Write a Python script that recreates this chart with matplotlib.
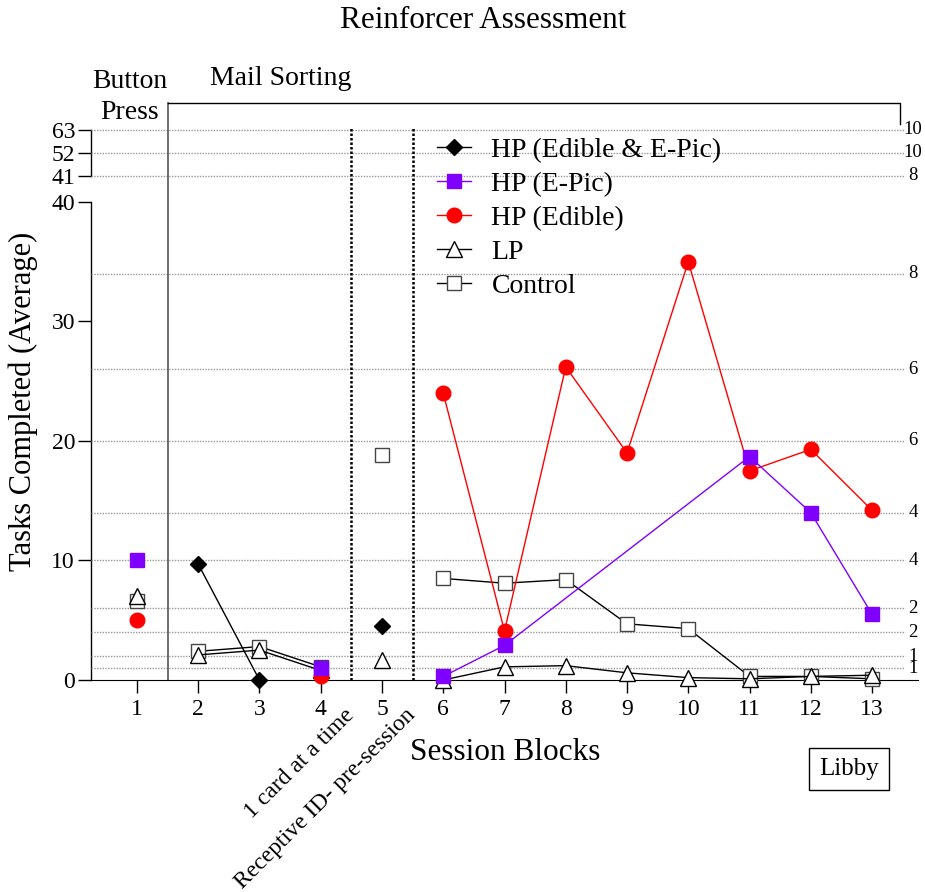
import numpy as np
import matplotlib
matplotlib.use('Agg')
import matplotlib.pyplot as plt
from matplotlib.lines import Line2D

plt.rcParams['font.family'] = 'Liberation Serif'

nan = np.nan
sessions = np.arange(1, 14)
hp_both = [nan, 9.7, 0.0, nan, 4.5, nan, nan, nan, nan, nan, nan, nan, nan]
hp_epic = [10.0, nan, nan, 1.0, nan, 0.3, 2.9, nan, nan, nan, 18.7, 14.0, 5.5]
hp_edible = [5.0, nan, nan, 0.3, nan, 24.0, 4.1, 26.2, 19.0, 35.0, 17.5, 19.3, 14.2]
lp = [7.0, 2.1, 2.5, 0.8, 1.7, 0.0, 1.1, 1.2, 0.6, 0.2, 0.1, 0.3, 0.4]
control = [6.6, 2.4, 2.8, 1.1, 18.8, 8.5, 8.1, 8.4, 4.7, 4.3, 0.3, 0.3, 0.1]

# phases: button press | mail sorting (3 conditions)
phases = [(1, 1), (2, 4), (5, 5), (6, 13)]
phase_lines = [1.5, 4.5, 5.5]

# criterion lines and the session count written at the right edge
crit_vals = [1, 2, 4, 6, 10, 14, 20, 26, 34, 41, 52, 63]
crit_labels = ['1', '1', '2', '2', '4', '4', '6', '6', '8', '8', '10', '10']

yticks = [0, 10, 20, 30, 40, 41, 52, 63]


# broken y axis: 0-40 linear, 41-63 squeezed on top
def fwd(y):
    y = np.asarray(y, float)
    return np.where(y <= 40, y,
                    np.where(y <= 41, 40 + (y - 40) * 2.18, 42.18 + (y - 41) * 0.175))


def inv(t):
    t = np.asarray(t, float)
    return np.where(t <= 40, t,
                    np.where(t <= 42.18, 40 + (t - 40) / 2.18, 41 + (t - 42.18) / 0.175))


fig = plt.figure(figsize=(9.25, 8.92), dpi=100)
ax = fig.add_axes([91 / 925, 1 - 680 / 892, 827 / 925, 553 / 892])
ax.set_yscale('function', functions=(fwd, inv))
ax.set_xlim(0.25, 13.75)
ax.set_ylim(0, 64.4)

for s in ['top', 'right', 'left']:
    ax.spines[s].set_visible(False)
ytr = ax.get_yaxis_transform()
ax.plot([0, 0], [0, 40], transform=ytr, color='k', lw=1, clip_on=False)
ax.plot([0, 0], [41, 63], transform=ytr, color='k', lw=1, clip_on=False)

ax.set_yticks(yticks)
ax.set_yticks([40, 41], minor=True)
ax.set_yticklabels([str(v) for v in yticks])
ax.set_xticks(sessions)
ax.tick_params(axis='both', which='major', direction='out', length=9.5, width=1,
               labelsize=17, pad=2)
ax.tick_params(axis='x', pad=4)
ax.tick_params(axis='y', which='minor', direction='in', length=6.5, width=1)

# criterion lines
ax.hlines(crit_vals, 0.25, 13.54, colors='#999999', linestyles=(0, (1, 1)), lw=1)
for v, lab in zip(crit_vals, crit_labels):
    ax.text(13.67, v, lab, fontsize=13.5, ha='center', va='center', clip_on=False)

# phase change lines and bracket
xtr = ax.get_xaxis_transform()
ax.plot([1.5, 1.5], [0, 1.044], transform=xtr, color='#555555', lw=1.2, clip_on=False)
ax.plot([1.5, 13.457, 13.457], [1.044, 1.044, 1.005], transform=xtr, color='k',
        lw=1, clip_on=False)
for xp in phase_lines[1:]:
    ax.plot([xp, xp], [0, 1.0], transform=xtr, color='k', lw=1.8,
            linestyle=(0, (1, 0.8)), clip_on=False)

ax.text(0.886, 1.054, 'Button\nPress', transform=xtr, fontsize=20, ha='center',
        va='center', linespacing=1.3)
ax.text(3.35, 1.0886, 'Mail Sorting', transform=xtr, fontsize=20, ha='center', va='center')

styles = [
    ('Control', control, dict(color='black', marker='s', markersize=10,
                             markerfacecolor='white', markeredgecolor='#444444')),
    ('LP', lp, dict(color='black', marker='^', markersize=11,
                    markerfacecolor='white', markeredgecolor='black')),
    ('HP (Edible)', hp_edible, dict(color='red', marker='o', markersize=10.5,
                                   markerfacecolor='red', markeredgecolor='red')),
    ('HP (E-Pic)', hp_epic, dict(color='#8000ff', marker='s', markersize=10,
                                markerfacecolor='#8000ff', markeredgecolor='#8000ff')),
    ('HP (Edible & E-Pic)', hp_both, dict(color='black', marker='D', markersize=8,
                                         markerfacecolor='black', markeredgecolor='black')),
]

handles = {}
for z, (name, vals, st) in enumerate(styles):
    vals = np.array(vals, float)
    for a, b in phases:
        idx = (sessions >= a) & (sessions <= b) & ~np.isnan(vals)
        ax.plot(sessions[idx], vals[idx], lw=1, clip_on=False, zorder=3 + z, **st)
    handles[name] = Line2D([], [], lw=1, **st)

order = ['HP (Edible & E-Pic)', 'HP (E-Pic)', 'HP (Edible)', 'LP', 'Control']
ax.legend([handles[n] for n in order], order, loc='upper left',
          bbox_to_anchor=(0.418, 0.981), frameon=False, fontsize=20,
          handlelength=1.22, handletextpad=0.75, labelspacing=0.31,
          borderpad=0, borderaxespad=0)

# phase notes under the axis
ax.text(4.5, -0.058, '1 card at a time', transform=xtr, fontsize=17, rotation=45,
        rotation_mode='anchor', ha='right', va='center')
ax.text(5.5, -0.058, 'Receptive ID- pre-session', transform=xtr, fontsize=17,
        rotation=45, rotation_mode='anchor', ha='right', va='center')

ax.set_xlabel('Session Blocks', fontsize=22.5)
ax.xaxis.set_label_coords(0.5006, -0.105)
ax.set_ylabel('Tasks Completed (Average)', fontsize=22)
ax.yaxis.set_label_coords(-0.064, 0.5045)

fig.text(483 / 925, 1 - 21 / 892, 'Reinforcer Assessment', fontsize=22.4,
         ha='center', va='center')
fig.text(849 / 925, 1 - 769 / 892, 'Libby', fontsize=18, ha='center', va='center',
         bbox=dict(boxstyle='square,pad=0.4', facecolor='white', edgecolor='black', lw=1))

fig.savefig('out.png', dpi=100)
